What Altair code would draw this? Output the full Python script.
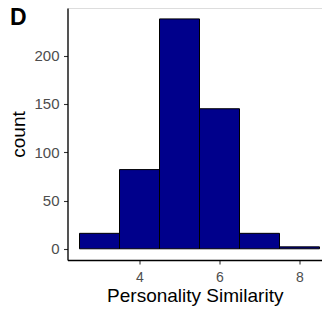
import altair as alt
import pandas as pd

# Histogram bins (centers, width 1) and counts
bin_centers = [3, 4, 5, 6, 7, 8]
counts = [16, 82, 238, 145, 16, 2]
bin_width = 1.0

y_ticks = [0, 50, 100, 150, 200]
x_ticks = [4, 6, 8]

df = pd.DataFrame({
    "center": bin_centers,
    "count": counts,
})
df["start"] = df["center"] - bin_width / 2
df["end"] = df["center"] + bin_width / 2

FONT = "Liberation Sans"

chart = alt.Chart(df).mark_bar(
    fill="#00008B", stroke="black", strokeWidth=1
).encode(
    x=alt.X("start:Q",
            scale=alt.Scale(domain=[2.2, 8.5625], nice=False, zero=False),
            axis=alt.Axis(values=x_ticks, title="Personality Similarity",
                          grid=False, domainColor="black", domainWidth=1.3,
                          tickColor="#333333", tickWidth=1.1, tickSize=4,
                          labelColor="#4D4D4D", labelFont=FONT, labelFontSize=14,
                          labelBaseline="alphabetic", labelPadding=17.5,
                          titleFont=FONT, titleFontSize=19, titleFontWeight="normal",
                          titleColor="black", titleBaseline="alphabetic", titleY=41.5)),
    x2="end:Q",
    y=alt.Y("count:Q",
            scale=alt.Scale(domain=[-11.6, 249.3], nice=False, zero=False),
            axis=alt.Axis(values=y_ticks, title="count",
                          grid=False, domainColor="black", domainWidth=1.3,
                          tickColor="#333333", tickWidth=1.1, tickSize=4,
                          labelColor="#4D4D4D", labelFont=FONT, labelFontSize=15,
                          labelPadding=4.5,
                          titleFont=FONT, titleFontSize=19, titleFontWeight="normal",
                          titleColor="black", titleBaseline="alphabetic",
                          titleAngle=-90, titleX=-43, titleY=126)),
    y2=alt.datum(0),
).properties(
    width=254.5,
    height=252,
    title=alt.TitleParams("D", anchor="start", frame="group", fontSize=23,
                          fontWeight="bold", font=FONT, color="black",
                          baseline="alphabetic", offset=0, dx=-57.5, dy=40),
    autosize=alt.AutoSizeParams(type="none"),
    padding={"left": 59.5, "top": 0, "right": 0, "bottom": 48},
).configure_view(stroke=None).configure(background="white")

chart.save("out.html", embed_options={"renderer": "svg", "actions": False})
